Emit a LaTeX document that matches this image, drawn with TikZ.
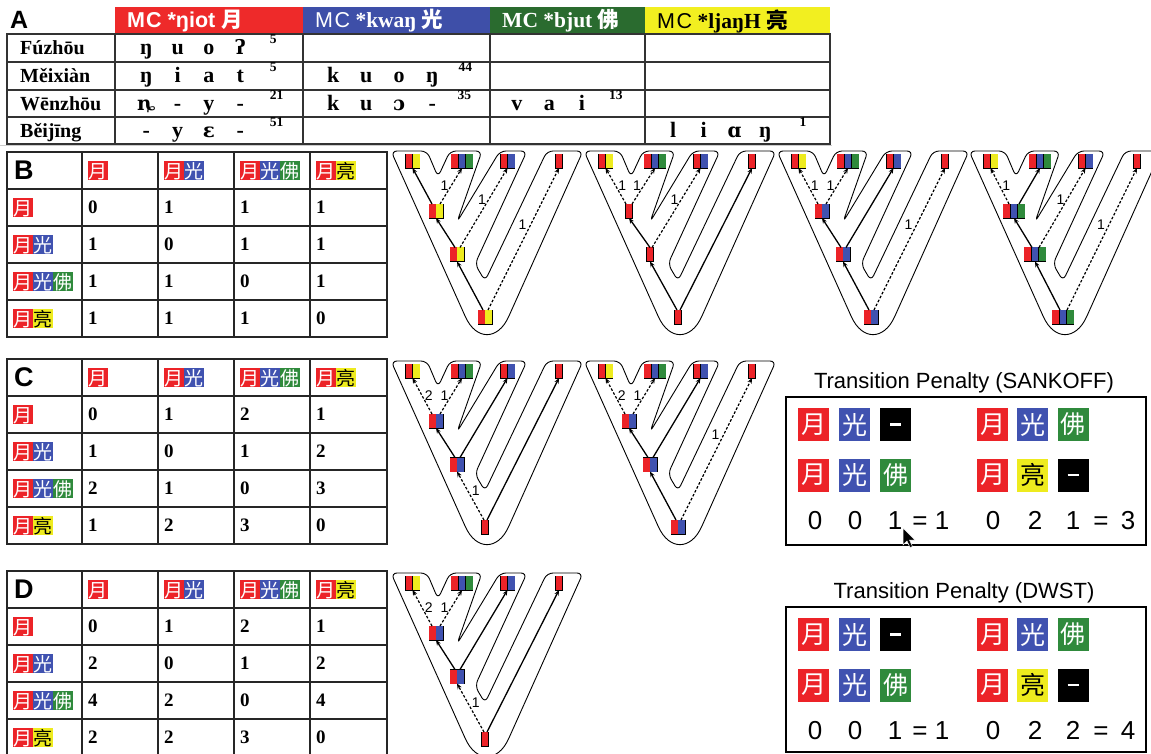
\documentclass[tikz,border=0pt]{standalone}
\usepackage{fontspec}
\setmainfont{Liberation Serif}
\setsansfont{Liberation Sans}
\newfontfamily\cjk{Noto Sans CJK SC}
\newfontfamily\ipa[Scale=0.9]{DejaVu Serif}
\usetikzlibrary{arrows.meta}
\definecolor{cR}{HTML}{EC2328}
\definecolor{cB}{HTML}{4052B0}
\definecolor{cG}{HTML}{2F8A3C}
\definecolor{cY}{HTML}{EEEB1E}
\definecolor{hR}{HTML}{EE2A2A}
\definecolor{hB}{HTML}{3E4FA8}
\definecolor{hG}{HTML}{2A6B2F}
\definecolor{hY}{HTML}{F2EF20}
\newcommand\fs[1]{\fontsize{#1}{#1}\selectfont}
\newcommand\bdg[3]{{\setlength\fboxsep{0pt}\colorbox{#1}{\makebox[1.05em]{\rule[-0.13em]{0pt}{1.05em}\textcolor{#3}{\cjk #2}}}}}
\newcommand\zR{\bdg{cR}{月}{white}}
\newcommand\zB{\bdg{cB}{光}{white}}
\newcommand\zG{\bdg{cG}{佛}{white}}
\newcommand\zY{\bdg{cY}{亮}{black}}
\newcommand\stR{\textcolor{cR}{\rule{6.6pt}{14pt}}}
\newcommand\stB{\textcolor{cB}{\rule{6.6pt}{14pt}}}
\newcommand\stG{\textcolor{cG}{\rule{6.6pt}{14pt}}}
\newcommand\stY{\textcolor{cY}{\rule{6.6pt}{14pt}}}
\newcommand\stX{\rule{0.8pt}{14pt}}
\newcommand\lb[2]{\makebox[#1pt]{#2}}
\newcommand\dashbar{\textcolor{white}{\rule{11pt}{2.2pt}}}
\tikzset{
  tbl/.style={line width=2pt, draw=black!85},
  tA/.style={line width=1.5pt, draw=black!80},
  plab/.style={font=\sffamily\bfseries\fs{27}, inner sep=0pt},
  hb/.style={inner sep=0pt, font=\fs{19}},
  num/.style={inner sep=0pt, font=\bfseries\fs{19}},
  ipl/.style={inner sep=0pt, font=\bfseries\fs{22}},
  rlab/.style={inner sep=0pt, font=\bfseries\fs{20}},
  sbox/.style={draw=black, line width=0.9pt, inner sep=0pt, outer sep=0pt},
  outl/.style={draw=black, line width=0.9pt, rounded corners=6pt},
  sol/.style={line width=1.3pt, -{Stealth[length=5.5pt,width=4.5pt]}},
  das/.style={sol, line width=1.2pt, dash pattern=on 2.6pt off 1.8pt},
  lbl/.style={font=\sffamily\fs{14}, inner sep=0.5pt},
  psq/.style={minimum width=31pt, minimum height=33pt, inner sep=0pt, text=white, font=\cjk\fs{25}},
  pnum/.style={anchor=base, inner sep=0pt, font=\sffamily\fs{26}},
  ptitle/.style={anchor=base, inner sep=0pt, font=\sffamily\fs{22}},
  pbox/.style={draw=black, line width=2pt}
}
\newcommand\mtab[4]{%
\begin{scope}[shift={(0,#2)}]
\draw[tbl] (7,0) rectangle (387,185);
\foreach \yy in {37,74,111,148} \draw[tbl] (7,\yy) -- (387,\yy);
\foreach \xx in {82,158,234,310} \draw[tbl] (\xx,0) -- (\xx,185);
\node[plab, anchor=west] (#1-h) at (14,18.5) {#3};
\node[hb, anchor=west] (#1-c1) at (88,18.5) {\zR};
\node[hb, anchor=west] (#1-c2) at (164,18.5) {\zR\zB};
\node[hb, anchor=west] (#1-c3) at (240,18.5) {\zR\zB\zG};
\node[hb, anchor=west] (#1-c4) at (316,18.5) {\zR\zY};
\node[hb, anchor=west] (#1-r1) at (12.5,55.5) {\zR};
\node[hb, anchor=west] (#1-r2) at (12.5,92.5) {\zR\zB};
\node[hb, anchor=west] (#1-r3) at (12.5,129.5) {\zR\zB\zG};
\node[hb, anchor=west] (#1-r4) at (12.5,166.5) {\zR\zY};
\foreach \v [count=\n from 0] in {#4} {
  \pgfmathtruncatemacro\rr{int(\n/4)+1}
  \pgfmathtruncatemacro\cc{mod(\n,4)+1}
  \node[num, anchor=west] (#1-\rr-\cc) at ({88+76*(\cc-1)}, {18.5+37*\rr}) {\v};
}
\end{scope}}
\newcommand\vtree[7]{%
\begin{scope}[shift={(#2,#3)}]
\draw[outl] (-14,-10) -- (22,-10) -- (33,16) -- (45,-10) -- (77,-10) -- (52,61) -- (95,-10) -- (122,-10) -- (70,103) -- (80,120) -- (142,-10) -- (178,-10) -- (106.2,150) .. controls (92.9,179.7) and (71.1,179.7) .. (57.8,150) -- cycle;
\node[sbox] (#1l1) at (7.5,0) {\stR\stX\stY};
\node[sbox] (#1l2) at (57,0) {\stR\stX\stB\stX\stG};
\node[sbox] (#1l3) at (102.5,0) {\stR\stX\stB};
\node[sbox] (#1l4) at (154,0) {\stR};
\node[sbox] (#1A) at (31,50) {#4};
\node[sbox] (#1B) at (52,93.5) {#5};
\node[sbox] (#1r) at (80,156) {#6};
\end{scope}}
\newcommand\pen[6]{%
\begin{scope}[shift={(0,#2)}]
\node[ptitle] (#1-t) at (964,388) {#3};
\draw[pbox] (786,397) rectangle (1146,#6);
\node[psq,fill=cR] (#1-a1) at (813.5,424.5) {月};
\node[psq,fill=cB] (#1-a2) at (854.5,424.5) {光};
\node[psq,fill=black] (#1-a3) at (895.5,424.5) {\dashbar};
\node[psq,fill=cR] (#1-a4) at (992.5,424.5) {月};
\node[psq,fill=cB] (#1-a5) at (1032.5,424.5) {光};
\node[psq,fill=cG] (#1-a6) at (1073,424.5) {佛};
\node[psq,fill=cR] (#1-b1) at (813.5,475) {月};
\node[psq,fill=cB] (#1-b2) at (854.5,475) {光};
\node[psq,fill=cG] (#1-b3) at (895.5,475) {佛};
\node[psq,fill=cR] (#1-b4) at (992.5,475) {月};
\node[psq,fill=cY,text=black] (#1-b5) at (1032.5,475) {亮};
\node[psq,fill=black] (#1-b6) at (1073,475) {\dashbar};
\node[pnum] (#1-n1) at (815,529.5) {0};
\node[pnum] (#1-n2) at (855,529.5) {0};
\node[pnum] (#1-n3) at (895,529.5) {1};
\node[pnum] (#1-n4) at (920,529.5) {=};
\node[pnum] (#1-n5) at (942,529.5) {1};
\node[pnum] (#1-n6) at (993,529.5) {0};
\node[pnum] (#1-n7) at (1035,529.5) {2};
\node[pnum] (#1-n8) at (1073,529.5) {#4};
\node[pnum] (#1-n9) at (1101,529.5) {=};
\node[pnum] (#1-n10) at (1128,529.5) {#5};
\end{scope}}
\begin{document}
\begin{tikzpicture}[x=1pt,y=-1pt]
\useasboundingbox[fill=white] (0,0) rectangle (1151,754);
% ---------- Panel A ----------
\node[plab, font=\sffamily\bfseries\fs{25}, anchor=west] (labA) at (10,20) {A};
\fill[hR] (115,7) rectangle (303,34);
\fill[hB] (303,7) rectangle (490,34);
\fill[hG] (490,7) rectangle (645,34);
\fill[hY] (645,7) rectangle (830,34);
\node[anchor=west, inner sep=0pt, text=white, font=\sffamily\bfseries\fs{21.5}] (hA1) at (127,21) {M\kern1ptC *ŋiot {\cjk 月}};
\node[anchor=west, inner sep=0pt, text=white, font=\fs{21.5}] (hA2) at (315,21) {{\sffamily M\kern1.5ptC} \textbf{*kwaŋ} {\cjk\bfseries 光}};
\node[anchor=west, inner sep=0pt, text=white, font=\bfseries\fs{21.5}] (hA3) at (502,21) {MC *bjut {\cjk 佛}};
\node[anchor=west, inner sep=0pt, text=black, font=\fs{21.5}] (hA4) at (657,21) {{\sffamily M\kern1.5ptC} \textbf{*ljaŋH} {\cjk\bfseries 亮}};
\draw[tA] (7,34) rectangle (830,144);
\foreach \yy in {62,90,117} \draw[tA] (7,\yy) -- (830,\yy);
\foreach \xx in {115,303,490,645} \draw[tA] (\xx,34) -- (\xx,144);
\node[rlab, anchor=base west] (fz) at (20,54.5) {Fúzhōu};
\node[rlab, anchor=base west] (mx) at (20,82.5) {Měixiàn};
\node[rlab, anchor=base west] (wz) at (20,110.5) {Wēnzhōu};
\node[rlab, anchor=base west] (bj) at (20,137.5) {Běijīng};
\node[ipl, anchor=base west] (fz1) at (130.5,54.5) {\lb{31.3}{ŋ}\lb{31.3}{u}\lb{31.3}{o}\lb{31.3}{\ipa ʔ}\hspace{14pt}\raisebox{11pt}{\fs{13.5}5}};
\node[ipl, anchor=base west] (mx1) at (130.5,82.5) {\lb{31.3}{ŋ}\lb{31.3}{i}\lb{31.3}{a}\lb{31.3}{t}\hspace{14pt}\raisebox{11pt}{\fs{13.5}5}};
\node[ipl, anchor=base west] (mx2) at (316.5,82.5) {\lb{33}{k}\lb{33}{u}\lb{33}{o}\lb{33}{ŋ}\hspace{10pt}\raisebox{11pt}{\fs{13.5}44}};
\node[ipl, anchor=base west] (wz1) at (130.5,110.5) {\lb{31.3}{\ipa ȵ}\lb{31.3}{-}\lb{31.3}{y}\lb{31.3}{-}\hspace{14pt}\raisebox{11pt}{\fs{13.5}21}};
\node[ipl, anchor=base west] (wz2) at (316.5,110.5) {\lb{33}{k}\lb{33}{u}\lb{33}{\ipa ɔ}\lb{33}{-}\hspace{9pt}\raisebox{11pt}{\fs{13.5}35}};
\node[ipl, anchor=base west] (wz3) at (500.5,110.5) {\lb{32.5}{v}\lb{32.5}{a}\lb{32.5}{i}\hspace{11pt}\raisebox{11pt}{\fs{13.5}13}};
\node[ipl, anchor=base west] (bj1) at (130.5,137.5) {\lb{31.3}{-}\lb{31.3}{y}\lb{31.3}{\ipa ɛ}\lb{31.3}{-}\hspace{14pt}\raisebox{11pt}{\fs{13.5}51}};
\node[ipl, anchor=base west] (bj4) at (657.5,137.5) {\lb{30.7}{l}\lb{30.7}{i}\lb{30.7}{\ipa ɑ}\lb{30.7}{ŋ}\hspace{19pt}\raisebox{11pt}{\fs{13.5}1}};
\draw[black!20, line width=1pt] (0,146) -- (832,146);
% ---------- Tables B, C, D ----------
\mtab{tb}{152}{B}{0,1,1,1,1,0,1,1,1,1,0,1,1,1,1,0}
\mtab{tc}{359}{C}{0,1,2,1,1,0,1,2,2,1,0,3,1,2,3,0}
\mtab{td}{571}{D}{0,1,2,1,2,0,1,2,4,2,0,4,2,2,3,0}
% ---------- Trees B ----------
\vtree{b1}{405}{161}{\stR\stX\stY}{\stR\stX\stY}{\stR\stX\stY}{}
\draw[sol] ([xshift=-4pt]b1A.north) -- (b1l1.south);
\draw[das] ([xshift=4pt]b1A.north) -- (b1l2.south) node[lbl,pos=.5,left=1.5pt]{1};
\draw[sol] ([xshift=-2pt]b1B.north) -- (b1A.south);
\draw[das] ([xshift=3pt]b1B.north) -- (b1l3.south) node[lbl,pos=.6,left=1.5pt]{1};
\draw[sol] ([xshift=-2pt]b1r.north) -- (b1B.south);
\draw[das] ([xshift=3pt]b1r.north) -- (b1l4.south) node[lbl,pos=.6,left=3pt]{1};
\vtree{b2}{598}{161}{\stR}{\stR}{\stR}{}
\draw[das] ([xshift=-3pt]b2A.north) -- (b2l1.south) node[lbl,pos=.5,right=1.5pt]{1};
\draw[das] ([xshift=3pt]b2A.north) -- (b2l2.south) node[lbl,pos=.5,left=1.5pt]{1};
\draw[sol] (b2B.north) -- (b2A.south);
\draw[das] ([xshift=2pt]b2B.north) -- (b2l3.south) node[lbl,pos=.6,left=1.5pt]{1};
\draw[sol] ([xshift=-1pt]b2r.north) -- (b2B.south);
\draw[sol] ([xshift=2pt]b2r.north) -- (b2l4.south);
\vtree{b3}{791}{161}{\stR\stX\stB}{\stR\stX\stB}{\stR\stX\stB}{}
\draw[das] ([xshift=-4pt]b3A.north) -- (b3l1.south) node[lbl,pos=.5,right=1.5pt]{1};
\draw[das] ([xshift=4pt]b3A.north) -- (b3l2.south) node[lbl,pos=.5,left=1.5pt]{1};
\draw[sol] ([xshift=-2pt]b3B.north) -- (b3A.south);
\draw[sol] ([xshift=3pt]b3B.north) -- (b3l3.south);
\draw[sol] ([xshift=-2pt]b3r.north) -- (b3B.south);
\draw[das] ([xshift=3pt]b3r.north) -- (b3l4.south) node[lbl,pos=.6,left=3pt]{1};
\vtree{b4}{983}{161}{\stR\stX\stB\stX\stG}{\stR\stX\stB\stX\stG}{\stR\stX\stB\stX\stG}{}
\draw[das] ([xshift=-5pt]b4A.north) -- (b4l1.south) node[lbl,pos=.5,right=1.5pt]{1};
\draw[sol] ([xshift=5pt]b4A.north) -- (b4l2.south);
\draw[sol] ([xshift=-3pt]b4B.north) -- (b4A.south);
\draw[das] ([xshift=4pt]b4B.north) -- (b4l3.south) node[lbl,pos=.6,left=1.5pt]{1};
\draw[sol] ([xshift=-3pt]b4r.north) -- (b4B.south);
\draw[das] ([xshift=4pt]b4r.north) -- (b4l4.south) node[lbl,pos=.6,left=3pt]{1};
% ---------- Trees C ----------
\vtree{c1}{405}{371}{\stR\stX\stB}{\stR\stX\stB}{\stR}{}
\draw[das] ([xshift=-4pt]c1A.north) -- (c1l1.south) node[lbl,pos=.5,right=1.5pt]{2};
\draw[das] ([xshift=4pt]c1A.north) -- (c1l2.south) node[lbl,pos=.5,left=1.5pt]{1};
\draw[sol] ([xshift=-2pt]c1B.north) -- (c1A.south);
\draw[sol] ([xshift=3pt]c1B.north) -- (c1l3.south);
\draw[das] ([xshift=-1pt]c1r.north) -- (c1B.south) node[lbl,pos=.6,right=3pt]{1};
\draw[sol] ([xshift=2pt]c1r.north) -- (c1l4.south);
\vtree{c2}{598}{371}{\stR\stX\stB}{\stR\stX\stB}{\stR\stX\stB}{}
\draw[das] ([xshift=-4pt]c2A.north) -- (c2l1.south) node[lbl,pos=.5,right=1.5pt]{2};
\draw[das] ([xshift=4pt]c2A.north) -- (c2l2.south) node[lbl,pos=.5,left=1.5pt]{1};
\draw[sol] ([xshift=-2pt]c2B.north) -- (c2A.south);
\draw[sol] ([xshift=3pt]c2B.north) -- (c2l3.south);
\draw[sol] ([xshift=-2pt]c2r.north) -- (c2B.south);
\draw[das] ([xshift=3pt]c2r.north) -- (c2l4.south) node[lbl,pos=.6,left=3pt]{1};
% ---------- Tree D ----------
\vtree{d1}{405}{583}{\stR\stX\stB}{\stR\stX\stB}{\stR}{}
\draw[das] ([xshift=-4pt]d1A.north) -- (d1l1.south) node[lbl,pos=.5,right=1.5pt]{2};
\draw[das] ([xshift=4pt]d1A.north) -- (d1l2.south) node[lbl,pos=.5,left=1.5pt]{1};
\draw[sol] ([xshift=-2pt]d1B.north) -- (d1A.south);
\draw[sol] ([xshift=3pt]d1B.north) -- (d1l3.south);
\draw[das] ([xshift=-1pt]d1r.north) -- (d1B.south) node[lbl,pos=.6,right=3pt]{1};
\draw[sol] ([xshift=2pt]d1r.north) -- (d1l4.south);
% ---------- Penalty boxes ----------
\pen{s}{0}{Transition Penalty (SANKOFF)}{1}{3}{545}
\pen{w}{210}{Transition Penalty (DWST)}{2}{4}{542}
% cursor
\draw[fill=black, draw=white, line width=0.5pt] (903,528) -- (903,545) -- (907,541) -- (910,547.5) -- (912.5,546.5) -- (909.5,540) -- (915,540) -- cycle;
\end{tikzpicture}
\end{document}
